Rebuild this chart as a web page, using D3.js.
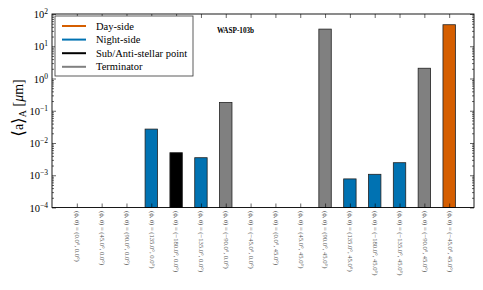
<!DOCTYPE html>
<meta charset="utf-8">
<style>
  body { margin: 0; background: #fff; }
  text { font-family: "Liberation Serif", "DejaVu Serif", serif; }
</style>
<script src="https://d3js.org/d3.v7.min.js"></script>
<div id="chart"></div>
<script>

// tick labels along x
const tickLabels = [
    "(ϕ, θ) = (0.0°, 0.0°)", "(ϕ, θ) = (45.0°, 0.0°)", "(ϕ, θ) = (90.0°, 0.0°)", "(ϕ, θ) = (135.0°, 0.0°)",
    "(ϕ, θ) = (−180.0°, 0.0°)", "(ϕ, θ) = (−135.0°, 0.0°)", "(ϕ, θ) = (−90.0°, 0.0°)", "(ϕ, θ) = (−45.0°, 0.0°)",
    "(ϕ, θ) = (0.0°, 45.0°)", "(ϕ, θ) = (45.0°, 45.0°)", "(ϕ, θ) = (90.0°, 45.0°)", "(ϕ, θ) = (135.0°, 45.0°)",
    "(ϕ, θ) = (−180.0°, 45.0°)", "(ϕ, θ) = (−135.0°, 45.0°)", "(ϕ, θ) = (−90.0°, 45.0°)", "(ϕ, θ) = (−45.0°, 45.0°)"
];

// mean particle size per location (null = nothing drawn)
const values = [null, null, null, 0.027, 0.005, 0.0035, 0.18, null,
                null, null, 34, 0.00077, 0.00107, 0.00245, 2.08, 46.5];

const regions = ["", "", "", "Night-side", "Sub/Anti-stellar point", "Night-side", "Terminator", "",
                 "", "", "Terminator", "Night-side", "Night-side", "Night-side", "Terminator", "Day-side"];

const legendNames = ["Day-side", "Night-side", "Sub/Anti-stellar point", "Terminator"];
const legendColors = ["#d55e00", "#0072b2", "#000000", "#808080"];

const yTicks = [1e-4, 1e-3, 1e-2, 1e-1, 1e0, 1e1, 1e2];
const yExps = ["−4", "−3", "−2", "−1", "0", "1", "2"];

const W = 483, H = 290;
const pLeft = 52, pRight = 474, pTop = 14, pBottom = 207.5;

const color = d3.scaleOrdinal().domain(legendNames).range(legendColors);

const svg = d3.select("#chart").append("svg")
    .attr("width", W).attr("height", H);

const x = d3.scaleLinear().domain([-1, 16]).range([pLeft, pRight]);
const y = d3.scaleLog().domain([1e-4, 1e2]).range([pBottom, pTop]);

const minor = [];
for (let k = -4; k < 2; k++) {
    for (let m = 2; m < 10; m++) minor.push(m * Math.pow(10, k));
}

// bars
svg.append("g").selectAll("rect")
    .data(values.map((v, i) => ({v: v, i: i, r: regions[i]})).filter(d => d.v !== null))
    .enter()
    .append("rect")
    .attr("x", d => x(d.i - 0.25))
    .attr("width", d => x(d.i + 0.25) - x(d.i - 0.25))
    .attr("y", d => y(d.v))
    .attr("height", d => pBottom - y(d.v))
    .style("fill", d => color(d.r))
    .style("stroke", "#222")
    .style("stroke-width", 0.8);

// x axes (ticks point inward)
const idx = d3.range(16);
const xb = svg.append("g").attr("transform", "translate(0," + pBottom + ")")
    .call(d3.axisBottom(x).tickValues(idx).tickSize(-4).tickPadding(6)
        .tickFormat(i => tickLabels[i]));
xb.selectAll("text")
    .attr("transform", "rotate(90)")
    .attr("text-anchor", "start")
    .attr("x", 3.5).attr("y", 0).attr("dy", "0.32em")
    .attr("font-size", "6.6px")
    .attr("fill", "#555");

svg.append("g").attr("transform", "translate(0," + pTop + ")")
    .call(d3.axisTop(x).tickValues(idx).tickSize(-4).tickFormat(""));

// y axes
svg.append("g").attr("transform", "translate(" + pLeft + ",0)")
    .call(d3.axisLeft(y).tickValues(yTicks).tickSize(-4).tickFormat(""));
svg.append("g").attr("transform", "translate(" + pLeft + ",0)")
    .call(d3.axisLeft(y).tickValues(minor).tickSize(-2).tickFormat(""));
svg.append("g").attr("transform", "translate(" + pRight + ",0)")
    .call(d3.axisRight(y).tickValues(yTicks).tickSize(-4).tickFormat(""));
svg.append("g").attr("transform", "translate(" + pRight + ",0)")
    .call(d3.axisRight(y).tickValues(minor).tickSize(-2).tickFormat(""));

svg.selectAll(".domain").remove();
svg.selectAll(".tick line").attr("stroke", "#000").attr("stroke-width", 0.6);

// y tick labels as 10^n
const ylab = svg.append("g");
yTicks.forEach(function (t, k) {
    const tx = ylab.append("text")
        .attr("x", pLeft - 4)
        .attr("y", y(t) + 4)
        .attr("text-anchor", "end")
        .attr("font-size", "10.5px");
    tx.append("tspan").text("10");
    tx.append("tspan").attr("dy", -4).attr("font-size", "7.5px").text(yExps[k]);
});

// frame
svg.append("rect")
    .attr("x", pLeft).attr("y", pTop)
    .attr("width", pRight - pLeft).attr("height", pBottom - pTop)
    .style("fill", "none").style("stroke", "#000").style("stroke-width", 0.9);

// y label
const ylabel = svg.append("text")
    .attr("transform", "translate(23,108) rotate(-90)")
    .attr("text-anchor", "middle")
    .attr("font-size", "14px");
ylabel.append("tspan").attr("font-size", "17px").attr("dy", 1).text("⟨");
ylabel.append("tspan").attr("dy", -1).text("a");
ylabel.append("tspan").attr("font-size", "17px").attr("dy", 1).text("⟩");
ylabel.append("tspan").attr("font-size", "10px").attr("dy", 2).text("A");
ylabel.append("tspan").attr("dy", -3).text(" [");
ylabel.append("tspan").attr("font-style", "italic").text("μ");
ylabel.append("tspan").text("m]");

// planet name
svg.append("text")
    .attr("x", 235.5).attr("y", 33)
    .attr("text-anchor", "middle")
    .attr("font-size", "7.2px")
    .attr("font-weight", "bold")
    .text("WASP-103b");

// legend
const lg = svg.append("g");
lg.append("rect")
    .attr("x", 55).attr("y", 16).attr("width", 138).attr("height", 60)
    .style("fill", "#fff").style("stroke", "#333").style("stroke-width", 0.8);
legendNames.forEach(function (name, k) {
    const ly = 26 + k * 13.6;
    lg.append("line")
        .attr("x1", 62).attr("x2", 86).attr("y1", ly).attr("y2", ly)
        .style("stroke", legendColors[k]).style("stroke-width", 2);
    lg.append("text")
        .attr("x", 96).attr("y", ly + 3.5)
        .attr("font-size", "10.5px")
        .text(name);
});

</script>
